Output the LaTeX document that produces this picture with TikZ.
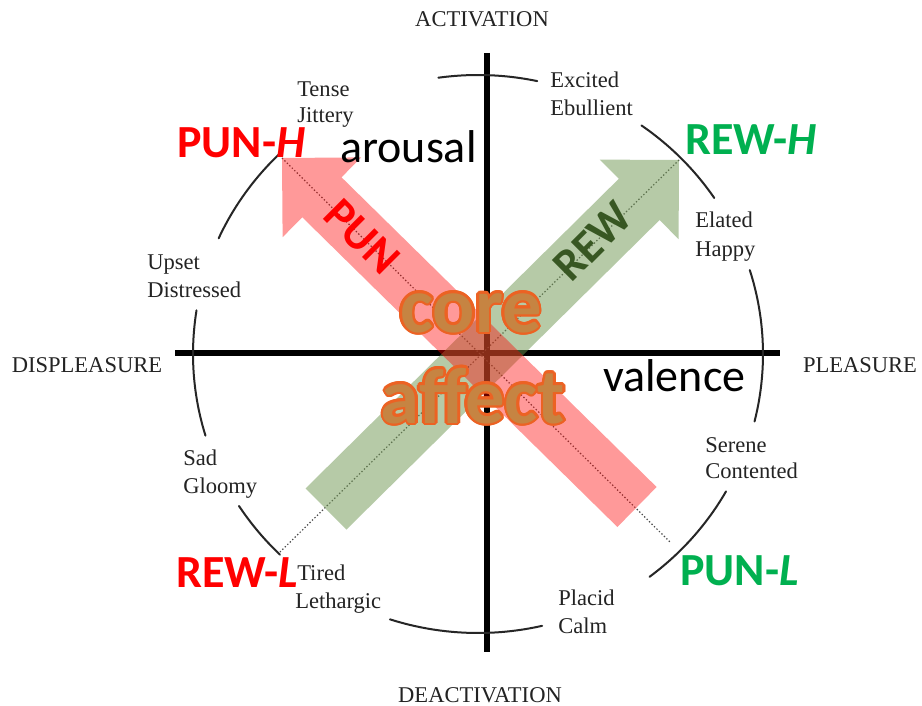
\documentclass[tikz,border=0pt]{standalone}
\usepackage{fontspec}
\newfontfamily\calfont{Carlito}
\newfontfamily\tnrfont{Liberation Serif}
\usetikzlibrary{calc}
\definecolor{pred}{RGB}{255,0,0}
\definecolor{pgreen}{RGB}{0,176,80}
\definecolor{dgreen}{RGB}{56,87,35}
\definecolor{arrgreen}{RGB}{110,150,80}
\definecolor{corout}{RGB}{236,98,35}
\definecolor{corfill}{RGB}{198,132,66}
\definecolor{lblgray}{RGB}{35,35,35}
\begin{document}
\begin{tikzpicture}[x=0.75pt,y=-0.75pt,
 axis/.style={line width=4.6pt, black},
 circarc/.style={line width=1.5pt, black!85, line cap=round},
 dotline/.style={line width=0.9pt, black!70, dash pattern=on 1pt off 1.6pt},
 lbl/.style={font=\tnrfont\fontsize{16.9}{18}\selectfont, text=lblgray, inner sep=0pt, anchor=base west},
 axlbl/.style={lbl, anchor=base},
 bigtxt/.style={font=\calfont\bfseries\fontsize{34.5}{40}\selectfont, inner sep=0pt, anchor=base west},
 plaintxt/.style={font=\calfont\fontsize{34.5}{40}\selectfont, inner sep=0pt, anchor=base west, text=black},
 coretxt/.style={font=\calfont\bfseries\fontsize{59}{70}\selectfont, inner sep=0pt, anchor=base},
]
\useasboundingbox (0,0) rectangle (922,706);
\fill[white] (0,0) rectangle (922,706);
% axes
\coordinate (vt) at (487,53); \coordinate (vb) at (487,652);
\coordinate (hl) at (175,353); \coordinate (hr) at (780,353);
\draw[axis] (vt) -- (vb);
\draw[axis] (hl) -- (hr);
% circle arcs
\foreach \a/\b in {78/98, 34/55, -14/17.5, -53/-29.5, -108/-77, -147/-134, 171/197, 134/155.5}
  \draw[circarc] plot[domain=\a:\b, samples=25, variable=\t] ({478+285*cos(\t)},{354-279*sin(\t)});
% dotted diagonals
\coordinate (ph) at (282,158); \coordinate (pl) at (670,542);
\coordinate (rh) at (679,160); \coordinate (rl) at (280,552);
\draw[dotline] (ph) -- (pl);
\draw[dotline] (rh) -- (rl);
% arrows
\fill[arrgreen, fill opacity=0.5] (346.4,529.6) -- (659.6,220.0) -- (678.6,239.2) -- (679,160) -- (599.8,159.6) -- (618.8,178.8) -- (305.6,488.4) -- cycle;
\fill[red, fill opacity=0.4] (656.6,487.0) -- (341.5,177.3) -- (361.2,157.4) -- (282,158) -- (282.6,237.2) -- (302.3,217.3) -- (617.4,527.0) -- cycle;
% circumplex labels
\node[lbl] (tense) at (297,97) {Tense};
\node[lbl] (jittery) at (297,123) {Jittery};
\node[lbl] (excited) at (550,88) {Excited};
\node[lbl] (ebullient) at (550,116) {Ebullient};
\node[lbl] (elated) at (695,228) {Elated};
\node[lbl] (happy) at (695,257) {Happy};
\node[lbl] (upset) at (147,270) {Upset};
\node[lbl] (distressed) at (147,297) {Distressed};
\node[lbl] (sad) at (183,465) {Sad};
\node[lbl] (gloomy) at (183,493) {Gloomy};
\node[lbl] (tired) at (297,580) {Tired};
\node[lbl] (lethargic) at (295,608) {Lethargic};
\node[lbl] (placid) at (558,605) {Placid};
\node[lbl] (calm) at (558,633) {Calm};
\node[lbl] (serene) at (705,452) {Serene};
\node[lbl] (contented) at (705,478) {Contented};
\node[axlbl] (activation) at (482,27) {ACTIVATION};
\node[axlbl] (deactivation) at (480,702) {DEACTIVATION};
\node[axlbl] (displeasure) at (87,373) {DISPLEASURE};
\node[axlbl] (pleasure) at (860,373) {PLEASURE};
% overlay labels
\node[bigtxt, text=pred] (punh) at (177,158) {PUN-\textit{H}};
\node[bigtxt, text=pgreen] (rewh) at (685,155) {REW-\textit{H}};
\node[bigtxt, text=pgreen] (punl) at (680,585) {PUN-\textit{L}};
\node[bigtxt, text=pred] (rewl) at (176,587) {REW-\textit{L}};
\node[plaintxt] (arousal) at (340,163) {arousal};
\node[plaintxt] (valence) at (603,392) {valence};
\node[bigtxt, anchor=center, rotate=45, text=dgreen] (rew) at (593,241) {REW};
\node[bigtxt, anchor=center, rotate=-45, text=pred] (pun) at (362,237) {PUN};
% core affect
\coordinate (corepos) at (471,332);
\coordinate (affpos) at (473,423);
\foreach \a [count=\i] in {0,22.5,...,337.5} {
  \node[coretxt, text=corout] (cout\i) at ($(corepos)+(\a:2.6)$) {core};
  \node[coretxt, text=corout] (aout\i) at ($(affpos)+(\a:2.6)$) {affect};
}
\node[coretxt, text=corfill] (core) at (corepos) {core};
\node[coretxt, text=corfill] (affect) at (affpos) {affect};
\end{tikzpicture}
\end{document}
